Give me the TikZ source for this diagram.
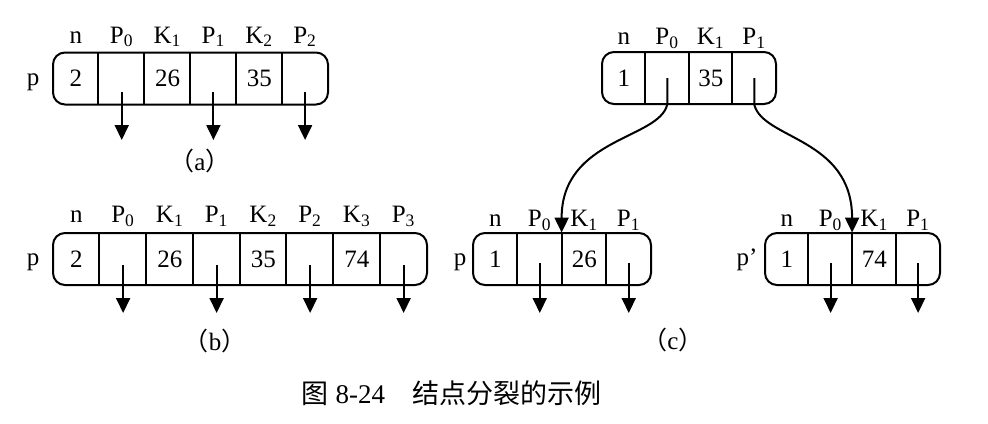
\documentclass[tikz,border=0pt]{standalone}
\usepackage{fontspec}
\setmainfont{Liberation Serif}
\newfontfamily\cjk{Noto Sans CJK SC}
\usetikzlibrary{arrows.meta}

\tikzset{
	keybox/.style={shape=rectangle, draw, line width=1pt, rounded corners=6pt, minimum height=26pt, inner sep=0pt},
	cell/.style={shape=rectangle, minimum width=#1, minimum height=26pt, inner sep=0pt, font=\fontsize{12.5}{15}\selectfont},
	lbl/.style={anchor=base, inner sep=0pt, font=\fontsize{12.5}{15}\selectfont},
	ptr/.style={line width=1pt, -{Triangle[length=7.5pt, width=7pt]}},
}

\begin{document}
\begin{tikzpicture}[x=0.5pt, y=-0.5pt]
	\useasboundingbox (0, 0) rectangle (988, 423);
	% (a) node before the split:
	\node[keybox, minimum width=137.5pt] (na) at (190.5, 78.5){};
	\node[cell=22.92pt] (a0) at (75.92, 78.5){2};
	\node[cell=22.92pt] (a1) at (121.75, 78.5){};
	\node[cell=22.92pt] (a2) at (167.58, 78.5){26};
	\node[cell=22.92pt] (a3) at (213.42, 78.5){};
	\node[cell=22.92pt] (a4) at (259.25, 78.5){35};
	\node[cell=22.92pt] (a5) at (305.08, 78.5){};
	\draw[line width=1pt] (a1.north west) -- (a1.south west);
	\draw[line width=1pt] (a2.north west) -- (a2.south west);
	\draw[line width=1pt] (a3.north west) -- (a3.south west);
	\draw[line width=1pt] (a4.north west) -- (a4.south west);
	\draw[line width=1pt] (a5.north west) -- (a5.south west);
	\node[lbl] (ha0) at ([yshift=4.5pt]a0.north){n};
	\node[lbl] (ha1) at ([yshift=4.5pt]a1.north){P\textsubscript{0}};
	\node[lbl] (ha2) at ([yshift=4.5pt]a2.north){K\textsubscript{1}};
	\node[lbl] (ha3) at ([yshift=4.5pt]a3.north){P\textsubscript{1}};
	\node[lbl] (ha4) at ([yshift=4.5pt]a4.north){K\textsubscript{2}};
	\node[lbl] (ha5) at ([yshift=4.5pt]a5.north){P\textsubscript{2}};
	\node[lbl] (pa) at (33, 85){p};
	\draw[ptr] ([yshift=-6.75pt]a1.center) -- +(0, 48);
	\draw[ptr] ([yshift=-6.75pt]a3.center) -- +(0, 48);
	\draw[ptr] ([yshift=-6.75pt]a5.center) -- +(0, 48);
	\node[lbl] (capa) at (200, 170){{\cjk （}a{\cjk ）}};
	% (b) node after inserting 74:
	\node[keybox, minimum width=187pt] (nb) at (240, 259){};
	\node[cell=23.375pt] (b0) at (76.375, 259){2};
	\node[cell=23.375pt] (b1) at (123.125, 259){};
	\node[cell=23.375pt] (b2) at (169.875, 259){26};
	\node[cell=23.375pt] (b3) at (216.625, 259){};
	\node[cell=23.375pt] (b4) at (263.375, 259){35};
	\node[cell=23.375pt] (b5) at (310.125, 259){};
	\node[cell=23.375pt] (b6) at (356.875, 259){74};
	\node[cell=23.375pt] (b7) at (403.625, 259){};
	\draw[line width=1pt] (b1.north west) -- (b1.south west);
	\draw[line width=1pt] (b2.north west) -- (b2.south west);
	\draw[line width=1pt] (b3.north west) -- (b3.south west);
	\draw[line width=1pt] (b4.north west) -- (b4.south west);
	\draw[line width=1pt] (b5.north west) -- (b5.south west);
	\draw[line width=1pt] (b6.north west) -- (b6.south west);
	\draw[line width=1pt] (b7.north west) -- (b7.south west);
	\node[lbl] (hb0) at ([yshift=5pt]b0.north){n};
	\node[lbl] (hb1) at ([yshift=5pt]b1.north){P\textsubscript{0}};
	\node[lbl] (hb2) at ([yshift=5pt]b2.north){K\textsubscript{1}};
	\node[lbl] (hb3) at ([yshift=5pt]b3.north){P\textsubscript{1}};
	\node[lbl] (hb4) at ([yshift=5pt]b4.north){K\textsubscript{2}};
	\node[lbl] (hb5) at ([yshift=5pt]b5.north){P\textsubscript{2}};
	\node[lbl] (hb6) at ([yshift=5pt]b6.north){K\textsubscript{3}};
	\node[lbl] (hb7) at ([yshift=5pt]b7.north){P\textsubscript{3}};
	\node[lbl] (pb) at (33, 265){p};
	\draw[ptr] ([yshift=-3pt]b1.center) -- +(0, 48);
	\draw[ptr] ([yshift=-3pt]b3.center) -- +(0, 48);
	\draw[ptr] ([yshift=-3pt]b5.center) -- +(0, 48);
	\draw[ptr] ([yshift=-3pt]b7.center) -- +(0, 48);
	\node[lbl] (capb) at (215, 350){{\cjk （}b{\cjk ）}};
	% (c) new root:
	\node[keybox, minimum width=87pt] (nt) at (689, 78){};
	\node[cell=21.75pt] (t0) at (623.75, 78){1};
	\node[cell=21.75pt] (t1) at (667.25, 78){};
	\node[cell=21.75pt] (t2) at (710.75, 78){35};
	\node[cell=21.75pt] (t3) at (754.25, 78){};
	\draw[line width=1pt] (t1.north west) -- (t1.south west);
	\draw[line width=1pt] (t2.north west) -- (t2.south west);
	\draw[line width=1pt] (t3.north west) -- (t3.south west);
	\node[lbl] (ht0) at ([yshift=3.5pt]t0.north){n};
	\node[lbl] (ht1) at ([yshift=3.5pt]t1.north){P\textsubscript{0}};
	\node[lbl] (ht2) at ([yshift=3.5pt]t2.north){K\textsubscript{1}};
	\node[lbl] (ht3) at ([yshift=3.5pt]t3.north){P\textsubscript{1}};
	% (c) left half p:
	\node[keybox, minimum width=89pt] (nl) at (562, 259){};
	\node[cell=22.25pt] (l0) at (495.25, 259){1};
	\node[cell=22.25pt] (l1) at (539.75, 259){};
	\node[cell=22.25pt] (l2) at (584.25, 259){26};
	\node[cell=22.25pt] (l3) at (628.75, 259){};
	\draw[line width=1pt] (l1.north west) -- (l1.south west);
	\draw[line width=1pt] (l2.north west) -- (l2.south west);
	\draw[line width=1pt] (l3.north west) -- (l3.south west);
	\node[lbl] (hl0) at ([yshift=3pt]l0.north){n};
	\node[lbl] (hl1) at ([yshift=3pt]l1.north){P\textsubscript{0}};
	\node[lbl] (hl2) at ([yshift=3pt]l2.north){K\textsubscript{1}};
	\node[lbl] (hl3) at ([yshift=3pt]l3.north){P\textsubscript{1}};
	\node[lbl] (pl) at (460, 265){p};
	\draw[ptr] ([yshift=-2pt]l1.center) -- +(0, 50);
	\draw[ptr] ([yshift=-2pt]l3.center) -- +(0, 50);
	% (c) right half p':
	\node[keybox, minimum width=87.5pt] (nr) at (852.5, 259){};
	\node[cell=21.875pt] (r0) at (786.875, 259){1};
	\node[cell=21.875pt] (r1) at (830.625, 259){};
	\node[cell=21.875pt] (r2) at (874.375, 259){74};
	\node[cell=21.875pt] (r3) at (918.125, 259){};
	\draw[line width=1pt] (r1.north west) -- (r1.south west);
	\draw[line width=1pt] (r2.north west) -- (r2.south west);
	\draw[line width=1pt] (r3.north west) -- (r3.south west);
	\node[lbl] (hr0) at ([yshift=3pt]r0.north){n};
	\node[lbl] (hr1) at ([yshift=3pt]r1.north){P\textsubscript{0}};
	\node[lbl] (hr2) at ([yshift=3pt]r2.north){K\textsubscript{1}};
	\node[lbl] (hr3) at ([yshift=3pt]r3.north){P\textsubscript{1}};
	\node[lbl] (pr) at (747, 265){p’};
	\draw[ptr] ([yshift=-2pt]r1.center) -- +(0, 50);
	\draw[ptr] ([yshift=-2pt]r3.center) -- +(0, 50);
	% root pointers to the two halves:
	\draw[ptr] (t1.center) -- (t1.south) .. controls +(-8, 35) and +(0, -95) .. (l2.north west);
	\draw[ptr] (t3.center) -- (t3.south) .. controls +(8, 35) and +(0, -95) .. (r2.north west);
	\node[lbl] (capc) at (673, 349){{\cjk （}c{\cjk ）}};
	% Caption:
	\node[anchor=base, inner sep=0pt, font=\fontsize{13.5}{16}\selectfont] (cap) at (451.5, 403){{\cjk 图} 8-24\quad{\cjk 结点分裂的示例}};
\end{tikzpicture}
\end{document}
